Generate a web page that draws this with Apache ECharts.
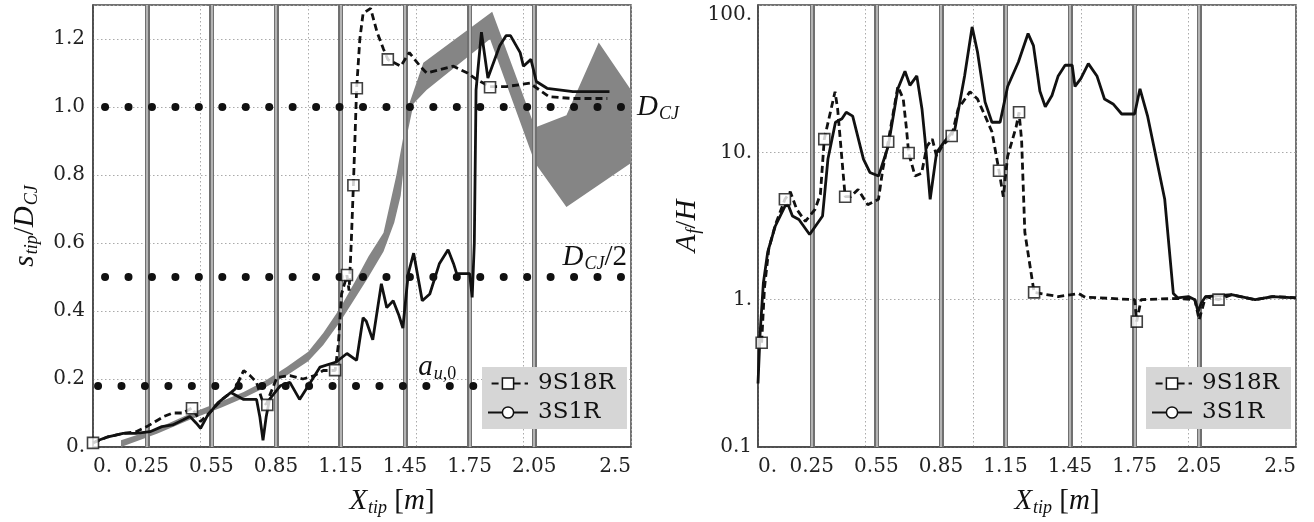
<!DOCTYPE html>
<html><head><meta charset="utf-8">
<script src="https://cdn.jsdelivr.net/npm/echarts@6/dist/echarts.min.js"></script>
<style>html,body{margin:0;padding:0;background:#fff}#c{width:1314px;height:522px}</style>
</head><body><div id="c"></div>
<script>
// ---------- data ----------
const xTickValues = [0, 0.25, 0.55, 0.85, 1.15, 1.45, 1.75, 2.05, 2.5];
const obstacles = [0.25, 0.55, 0.85, 1.15, 1.45, 1.75, 2.05];
const leftYTicks = [0, 0.2, 0.4, 0.6, 0.8, 1.0, 1.2];
const refLevels = [1.0, 0.5, 0.18];   // D_CJ, D_CJ/2, a_u,0
const seriesNames = ['9S18R', '3S1R'];

// left panel: s_tip / D_CJ
const left9S18R = [[0.0,0.012],[0.07,0.03],[0.14,0.04],[0.2,0.045],[0.25,0.06],[0.29,0.075],[0.33,0.09],[0.37,0.1],[0.42,0.1],[0.46,0.115],[0.5,0.075],[0.54,0.1],[0.6,0.14],[0.66,0.17],[0.7,0.225],[0.73,0.21],[0.76,0.19],[0.785,0.14],[0.805,0.125],[0.82,0.15],[0.855,0.205],[0.915,0.21],[0.975,0.2],[1.03,0.21],[1.07,0.225],[1.125,0.225],[1.14,0.3],[1.155,0.45],[1.18,0.505],[1.19,0.46],[1.2,0.6],[1.21,0.77],[1.225,1.055],[1.24,1.2],[1.255,1.275],[1.29,1.29],[1.32,1.22],[1.35,1.17],[1.37,1.14],[1.43,1.12],[1.47,1.16],[1.52,1.12],[1.55,1.1],[1.675,1.12],[1.74,1.1],[1.785,1.08],[1.845,1.06],[1.92,1.06],[2.03,1.07],[2.12,1.03],[2.23,1.025],[2.39,1.025]];
const left9S18RMarkers = [[0.0,0.012],[0.46,0.114],[0.81,0.124],[1.125,0.226],[1.18,0.506],[1.21,0.77],[1.226,1.055],[1.37,1.14],[1.845,1.058]];
const left3S1R = [[0.01,0.016],[0.07,0.03],[0.14,0.04],[0.2,0.04],[0.265,0.045],[0.32,0.06],[0.37,0.065],[0.42,0.08],[0.45,0.09],[0.48,0.07],[0.5,0.055],[0.53,0.09],[0.58,0.13],[0.64,0.16],[0.7,0.14],[0.76,0.14],[0.775,0.09],[0.79,0.02],[0.805,0.09],[0.82,0.14],[0.87,0.18],[0.915,0.19],[0.96,0.14],[1.01,0.19],[1.055,0.235],[1.13,0.25],[1.18,0.275],[1.225,0.255],[1.255,0.38],[1.27,0.37],[1.3,0.315],[1.34,0.48],[1.365,0.41],[1.395,0.43],[1.42,0.39],[1.44,0.35],[1.465,0.51],[1.49,0.57],[1.53,0.43],[1.565,0.45],[1.61,0.54],[1.65,0.58],[1.675,0.54],[1.69,0.51],[1.75,0.51],[1.762,0.44],[1.772,0.6],[1.78,1.05],[1.805,1.22],[1.835,1.085],[1.89,1.18],[1.92,1.21],[1.94,1.21],[1.985,1.16],[2.0,1.12],[2.035,1.14],[2.06,1.075],[2.11,1.055],[2.23,1.045],[2.4,1.045]];
const bandTop = [[0.13,0.02],[0.3,0.055],[0.45,0.098],[0.6,0.135],[0.7,0.162],[0.8,0.195],[0.9,0.235],[1.0,0.28],[1.07,0.335],[1.15,0.41],[1.22,0.49],[1.28,0.56],[1.35,0.63],[1.41,0.8],[1.47,1.01],[1.535,1.13],[1.855,1.28],[2.054,0.94],[2.2,0.976],[2.35,1.19],[2.5,1.05]];
const bandBottom = [[0.13,0.0],[0.3,0.04],[0.45,0.08],[0.6,0.117],[0.7,0.144],[0.8,0.175],[0.9,0.21],[1.0,0.252],[1.07,0.3],[1.15,0.37],[1.22,0.44],[1.28,0.5],[1.35,0.575],[1.4,0.66],[1.43,0.74],[1.46,0.92],[1.49,1.01],[1.55,1.05],[1.845,1.2],[2.054,0.835],[2.2,0.706],[2.5,0.835]];

// right panel: A_f / H (log)
const right9S18R = [[0.017,0.51],[0.03,1.2],[0.05,2.2],[0.08,3.2],[0.125,4.8],[0.15,5.4],[0.18,4.1],[0.22,3.4],[0.265,4.1],[0.29,5.2],[0.308,12.3],[0.358,25.8],[0.37,19.7],[0.39,9],[0.405,5.0],[0.43,5.0],[0.465,5.6],[0.51,4.4],[0.56,4.8],[0.58,7.7],[0.605,11.8],[0.65,28],[0.675,23],[0.69,14.4],[0.7,9.9],[0.73,6.9],[0.76,7.2],[0.785,11],[0.81,12.3],[0.83,9.4],[0.855,11],[0.9,12.9],[0.93,19.7],[0.985,25.8],[1.02,23],[1.055,17.7],[1.087,13.8],[1.12,7.5],[1.14,5.0],[1.16,9.4],[1.2,15],[1.213,18.7],[1.225,12],[1.24,2.86],[1.283,1.12],[1.395,1.05],[1.49,1.1],[1.52,1.04],[1.75,1.0],[1.76,0.71],[1.78,1.0],[1.95,1.02],[2.03,1.0],[2.05,0.73],[2.08,1.05],[2.14,1.0],[2.2,1.08],[2.31,1.0],[2.39,1.05],[2.5,1.03]];
const right9S18RMarkers = [[0.017,0.51],[0.125,4.8],[0.308,12.3],[0.405,5.0],[0.605,11.8],[0.7,9.9],[0.9,12.9],[1.12,7.5],[1.213,18.7],[1.283,1.12],[1.76,0.71],[2.14,1.0]];
const right3S1R = [[0.0,0.27],[0.01,0.6],[0.025,1.3],[0.045,2.1],[0.08,3.15],[0.125,4.3],[0.14,4.4],[0.16,3.7],[0.19,3.5],[0.24,2.77],[0.3,3.7],[0.325,9.0],[0.36,16],[0.39,16.9],[0.41,18.7],[0.44,17.6],[0.49,9],[0.52,7.3],[0.56,6.9],[0.605,11],[0.65,27],[0.683,35.5],[0.706,28.5],[0.738,33],[0.762,19.7],[0.776,12.3],[0.8,4.8],[0.83,10],[0.87,12],[0.915,14.4],[0.96,33],[0.995,71],[1.02,48],[1.055,22],[1.087,16],[1.125,16],[1.16,28],[1.21,41],[1.255,64],[1.28,53],[1.31,26],[1.335,20.4],[1.366,24.3],[1.395,33],[1.427,39],[1.46,39],[1.473,28],[1.5,31.6],[1.535,40],[1.575,33],[1.61,23],[1.65,21.3],[1.69,18.2],[1.75,18.2],[1.775,27],[1.81,17.7],[1.845,10],[1.89,4.8],[1.93,1.1],[1.95,1.03],[2.0,1.05],[2.03,1.0],[2.045,0.83],[2.06,0.95],[2.08,1.05],[2.2,1.08],[2.31,1.0],[2.39,1.05],[2.5,1.03]];

// ---------- styling ----------
const MATH = 'Liberation Serif';
const NUM = 'DejaVu Serif';
const rich = {
  i: {fontFamily: MATH, fontStyle: 'italic', fontSize: 29, color: '#111'},
  n: {fontFamily: MATH, fontSize: 29, color: '#111'},
  sub: {fontFamily: MATH, fontStyle: 'italic', fontSize: 18, color: '#111', padding: [14, 0, 0, 1]},
  subn: {fontFamily: MATH, fontSize: 18, color: '#111', padding: [14, 0, 0, 0]}
};
const INK = '#111';

function xAxis(gi) {
  return {
    type: 'value', gridIndex: gi, min: 0, max: 2.5, interval: 0.5,
    axisLine: {show: true, onZero: false, lineStyle: {color: '#444', width: 1.5}},
    axisTick: {show: false},
    splitLine: {show: true, lineStyle: {color: '#aaa', type: [1.5, 2.5], width: 1}},
    axisLabel: {customValues: xTickValues, formatter: v => v === 0 ? '0.' : String(v),
      fontFamily: NUM, fontSize: 20, color: '#222', margin: 10, alignMinLabel: 'left', alignMaxLabel: 'right'},
    name: '{i|X}{sub|tip}{n| [}{i|m}{n|]}', nameLocation: 'middle', nameGap: 38,
    nameTextStyle: {rich: rich, padding: [0, 0, 0, 60]}
  };
}

function mkLegend(left) {
  return {
    left: left, top: 367, z: 30, orient: 'vertical', backgroundColor: '#d6d6d6',
    padding: [5, 12, 5, 5], itemGap: 6, itemWidth: 40, itemHeight: 14, selectedMode: false,
    textStyle: {fontFamily: NUM, fontSize: 23, color: INK, padding: [0, 0, 0, 5]},
    data: [
      {name: seriesNames[0], itemStyle: {color: '#fff', borderColor: INK, borderWidth: 1.5}},
      {name: seriesNames[1], itemStyle: {color: '#fff', borderColor: INK, borderWidth: 1.5}}
    ]
  };
}

function obstacleSeries(gi, color, width, z) {
  return {
    type: 'line', xAxisIndex: gi, yAxisIndex: gi, data: [], silent: true, z: z,
    markLine: {silent: true, z: z, symbol: ['none', 'none'], animation: false, label: {show: false},
      lineStyle: {color: color, width: width, type: 'solid'},
      data: obstacles.map(x => ({xAxis: x}))}
  };
}

function dashedLine(gi, data) {
  return {name: seriesNames[0], type: 'line', xAxisIndex: gi, yAxisIndex: gi, data: data,
    symbol: 'rect', symbolSize: 10, showSymbol: false, silent: true, z: 10,
    lineStyle: {color: INK, width: 2.8, type: [7, 4]},
    itemStyle: {color: '#fff', borderColor: INK, borderWidth: 1.5}};
}
function solidLine(gi, data) {
  return {name: seriesNames[1], type: 'line', xAxisIndex: gi, yAxisIndex: gi, data: data,
    symbol: 'circle', symbolSize: 10, showSymbol: false, silent: true, z: 10,
    lineStyle: {color: INK, width: 2.8, type: 'solid'},
    itemStyle: {color: '#fff', borderColor: INK, borderWidth: 1.5}};
}
function markers(gi, data) {
  return {name: '9S18R-markers', type: 'scatter', xAxisIndex: gi, yAxisIndex: gi, data: data,
    symbol: 'rect', symbolSize: 11, silent: true, z: 11,
    itemStyle: {color: '#fff', borderColor: INK, borderWidth: 1.6}};
}

const dotStyle = (offset) => ({color: INK, width: 8, type: [0.01, 23.44], cap: 'round', dashOffset: offset});

const option = {
  animation: false,
  backgroundColor: '#fff',
  textStyle: {fontFamily: NUM},
  grid: [
    {left: 93, top: 5, width: 538, height: 442, show: true, borderColor: '#444', borderWidth: 1.5, backgroundColor: '#fff'},
    {left: 758, top: 5, width: 538, height: 442, show: true, borderColor: '#444', borderWidth: 1.5, backgroundColor: '#fff'}
  ],
  xAxis: [xAxis(0), xAxis(1)],
  yAxis: [
    {type: 'value', gridIndex: 0, min: 0, max: 1.3, interval: 0.2,
      axisLine: {show: true, onZero: false, lineStyle: {color: '#444', width: 1.5}},
      axisTick: {show: false},
      splitLine: {show: true, lineStyle: {color: '#aaa', type: [1.5, 2.5], width: 1}},
      axisLabel: {customValues: leftYTicks, formatter: v => v === 0 ? '0.' : v.toFixed(1),
        fontFamily: NUM, fontSize: 20, color: '#222', margin: 8},
      name: '{i|s}{sub|tip}{n|/}{i|D}{sub|CJ}', nameLocation: 'middle', nameGap: 52,
      nameTextStyle: {rich: rich}},
    {type: 'log', logBase: 10, gridIndex: 1, min: 0.1, max: 100,
      axisLine: {show: true, onZero: false, lineStyle: {color: '#444', width: 1.5}},
      axisTick: {show: false},
      splitLine: {show: true, lineStyle: {color: '#aaa', type: [1.5, 2.5], width: 1}},
      axisLabel: {formatter: v => v < 0.5 ? '0.1' : Math.round(v) + '.',
        fontFamily: NUM, fontSize: 20, color: '#222', margin: 6, verticalAlignMaxLabel: 'top'},
      name: '{i|A}{sub|f}{n|/}{i|H}', nameLocation: 'middle', nameGap: 24,
      nameTextStyle: {rich: rich}}
  ],
  legend: [mkLegend(482), mkLegend(1146)],
  series: [
    // gray band (envelope) in left panel
    {type: 'custom', xAxisIndex: 0, yAxisIndex: 0, data: [[0, 0]], silent: true, z: 1,
      renderItem: function (params, api) {
        const pts = bandTop.map(p => api.coord(p)).concat(bandBottom.slice().reverse().map(p => api.coord(p)));
        return {type: 'polygon', shape: {points: pts}, style: {fill: '#858585', stroke: null}};
      }},
    obstacleSeries(0, '#707070', 5, 2),
    obstacleSeries(0, '#b4b4b4', 2, 3),
    obstacleSeries(1, '#707070', 5, 2),
    obstacleSeries(1, '#b4b4b4', 2, 3),
    // reference levels (dotted)
    {type: 'line', xAxisIndex: 0, yAxisIndex: 0, data: [], silent: true, z: 4,
      markLine: {silent: true, z: 4, symbol: ['none', 'none'], animation: false,
        data: [
          {yAxis: refLevels[0], lineStyle: dotStyle(11.4),
            label: {show: true, position: 'end', distance: 6, formatter: '{i|D}{sub|CJ}', rich: rich}},
          {yAxis: refLevels[1], lineStyle: dotStyle(11.4),
            label: {show: true, position: 'insideEndTop', distance: 4, formatter: '{i|D}{sub|CJ}{n|/2}', rich: rich}},
          {yAxis: refLevels[2], lineStyle: dotStyle(18.4), label: {show: false}}
        ]},
      markPoint: {silent: true, z: 4, animation: false,
        data: [{coord: [1.6, refLevels[2]], symbol: 'circle', symbolSize: 1, itemStyle: {color: 'rgba(0,0,0,0)'},
          label: {show: true, position: 'top', distance: 2, formatter: '{i|a}{sub|u}{subn|,0}', rich: rich}}]}
    },
    dashedLine(0, left9S18R),
    solidLine(0, left3S1R),
    markers(0, left9S18RMarkers),
    dashedLine(1, right9S18R),
    solidLine(1, right3S1R),
    markers(1, right9S18RMarkers)
  ]
};

const chart = echarts.init(document.getElementById('c'), null, {renderer: 'canvas'});
chart.setOption(option);
</script></body></html>
